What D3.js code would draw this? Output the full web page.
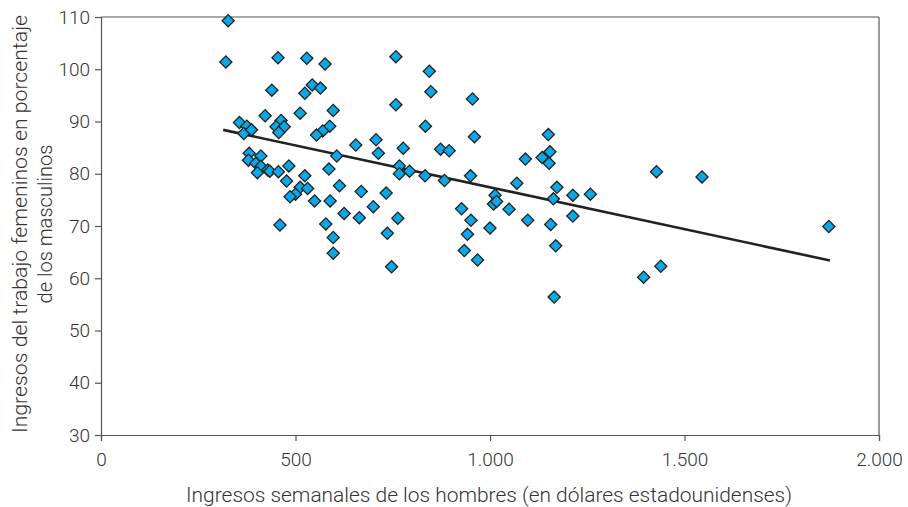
<!DOCTYPE html>
<html>
<head>
<meta charset="utf-8">
<script src="https://cdn.jsdelivr.net/npm/d3@7"></script>
<style>
  body { margin: 0; background: #fff; }
  text { font-family: Roboto, "Liberation Sans", sans-serif; font-weight: 300; fill: #333; }
</style>
</head>
<body>
<div id="chart"></div>
<script>
// Men's weekly earnings (USD)
const menWeekly = [
  327, 321, 455, 529, 576, 758, 439, 524, 543, 564,
  758, 422, 512, 597, 356, 375, 367, 387, 463, 450,
  471, 457, 588, 570, 554, 655, 707, 713, 606, 381,
  411, 379, 398, 411, 429, 434, 402, 456, 483, 477,
  524, 586, 512, 531, 500, 486, 549, 589, 613, 669,
  733, 700, 625, 664, 763, 460, 578, 597, 597, 736,
  747, 844, 848, 955, 834, 960, 1150, 777, 873, 895,
  1091, 1134, 1154, 1152, 767, 767, 793, 833, 883, 950,
  1069, 1172, 1213, 1013, 1163, 1009, 1017, 1049, 927, 951,
  1097, 1156, 1213, 1000, 942, 1169, 934, 968, 1165, 1258,
  1428, 1545, 1871, 1439, 1395
];
// Women's earnings as % of men's
const womenPct = [
  109.3, 101.4, 102.2, 102.1, 101.0, 102.4, 96.0, 95.4, 97.0, 96.4,
  93.2, 91.1, 91.6, 92.1, 89.8, 89.1, 87.7, 88.4, 90.2, 89.0,
  89.0, 87.9, 89.1, 88.2, 87.4, 85.5, 86.5, 83.9, 83.4, 83.9,
  83.4, 82.6, 82.0, 81.4, 80.7, 80.5, 80.2, 80.4, 81.5, 78.6,
  79.6, 80.9, 77.4, 77.2, 76.1, 75.6, 74.8, 74.8, 77.7, 76.6,
  76.3, 73.7, 72.4, 71.6, 71.5, 70.2, 70.4, 67.8, 64.8, 68.6,
  62.2, 99.6, 95.7, 94.3, 89.1, 87.1, 87.5, 84.9, 84.7, 84.4,
  82.8, 83.1, 84.2, 82.0, 81.5, 80.0, 80.5, 79.6, 78.7, 79.6,
  78.2, 77.4, 75.9, 75.9, 75.2, 74.2, 74.7, 73.2, 73.3, 71.1,
  71.1, 70.3, 71.9, 69.6, 68.4, 66.2, 65.3, 63.5, 56.4, 76.1,
  80.4, 79.4, 69.9, 62.3, 60.2
];
// Trend line end points
const trendX = [314, 1874];
const trendY = [88.4, 63.4];

const xTicks = [0, 500, 1000, 1500, 2000];
const yTicks = [30, 40, 50, 60, 70, 80, 90, 100, 110];

const width = 908, height = 507;
const margin = { top: 17, right: 29, bottom: 72, left: 101 };
const innerW = width - margin.left - margin.right;
const innerH = height - margin.top - margin.bottom;

const svg = d3.select('#chart').append('svg')
  .attr('width', width)
  .attr('height', height);

const g = svg.append('g')
  .attr('transform', `translate(${margin.left},${margin.top})`);

const x = d3.scaleLinear().domain([0, 2000]).range([0, innerW]);
const y = d3.scaleLinear().domain([30, 110]).range([innerH, 0]);

const fmt = d => d3.format(',')(d).replace(/,/g, '.');

// frame top / right
g.append('line').attr('x1', 0).attr('x2', innerW).attr('y1', 0).attr('y2', 0)
  .attr('stroke', '#555').attr('stroke-width', 1.2);
g.append('line').attr('x1', innerW).attr('x2', innerW).attr('y1', 0).attr('y2', innerH)
  .attr('stroke', '#555').attr('stroke-width', 1.2);

// axes
const xAxis = g.append('g')
  .attr('transform', `translate(0,${innerH})`)
  .call(d3.axisBottom(x).tickValues(xTicks).tickFormat(fmt).tickSize(6).tickPadding(12));
const yAxis = g.append('g')
  .call(d3.axisLeft(y).tickValues(yTicks).tickSize(6).tickPadding(5));

[xAxis, yAxis].forEach(a => {
  a.selectAll('.domain').attr('stroke', '#555').attr('stroke-width', 1.2);
  a.selectAll('.tick line').attr('stroke', '#555').attr('stroke-width', 1.2);
  a.selectAll('text')
    .style('font-family', 'Roboto, "Liberation Sans", sans-serif')
    .style('font-weight', 300)
    .style('font-size', '19px')
    .attr('fill', '#333');
});

// trend line
g.append('line')
  .attr('x1', x(trendX[0])).attr('y1', y(trendY[0]))
  .attr('x2', x(trendX[1])).attr('y2', y(trendY[1]))
  .attr('stroke', '#222').attr('stroke-width', 2.6);

// points
const pts = menWeekly.map((v, i) => ({ x: v, y: womenPct[i] }));
const sym = d3.symbol().type(d3.symbolSquare).size(74);
g.selectAll('.pt')
  .data(pts)
  .enter().append('path')
  .attr('class', 'pt')
  .attr('d', sym)
  .attr('transform', d => `translate(${x(d.x)},${y(d.y)}) rotate(45)`)
  .attr('fill', '#0aa8e6')
  .attr('stroke', '#222')
  .attr('stroke-width', 1.3);

// axis titles
svg.append('text')
  .attr('x', 489)
  .attr('y', 502)
  .attr('text-anchor', 'middle')
  .attr('textLength', 606)
  .attr('lengthAdjust', 'spacingAndGlyphs')
  .style('font-size', '20px')
  .text('Ingresos semanales de los hombres (en dólares estadounidenses)');

const yt = svg.append('text')
  .attr('transform', `translate(27,224) rotate(-90)`)
  .attr('text-anchor', 'middle')
  .style('font-size', '20px');
yt.append('tspan').attr('x', 0).attr('dy', 0)
  .attr('textLength', 418)
  .attr('lengthAdjust', 'spacingAndGlyphs')
  .text('Ingresos del trabajo femeninos en porcentaje');
yt.append('tspan').attr('x', 0).attr('dy', 25)
  .attr('textLength', 159)
  .attr('lengthAdjust', 'spacingAndGlyphs')
  .text('de los masculinos');
</script>
</body>
</html>
